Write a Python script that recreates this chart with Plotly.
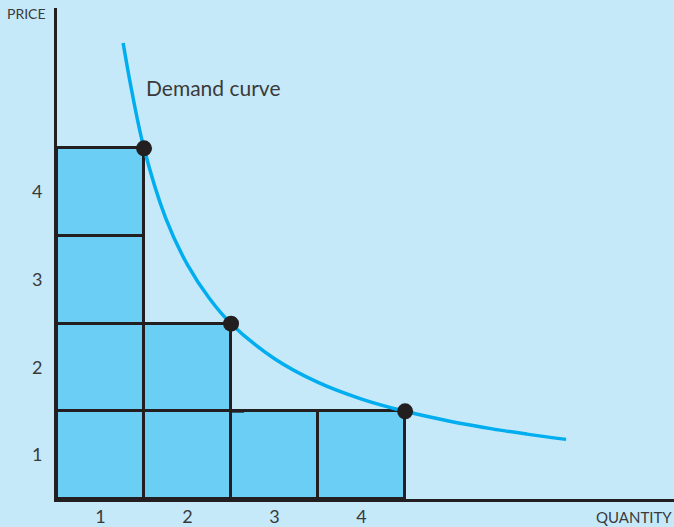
import plotly.graph_objects as go

# Data
quantities = [1, 2, 3, 4]           # column index (unit step)
column_heights = [4, 2, 1, 1]       # number of stacked unit boxes per column
points_q = [1, 2, 4]
points_p = [4, 2, 1]
curve_q = [0.76, 0.85, 1.0, 1.25, 1.5, 1.75, 2.0, 2.5, 3.0, 3.5, 4.0, 4.5, 5.0, 5.4, 5.85]
curve_p = [5.2, 4.7, 4.0, 3.2, 2.67, 2.29, 2.0, 1.6, 1.33, 1.14, 1.0, 0.89, 0.8, 0.74, 0.68]
tick_pos = [0.5, 1.5, 2.5, 3.5]
tick_text = ["1", "2", "3", "4"]
overhang_y = [2, 1]
overhang_x0 = [1.0, 2.0]
overhang_x1 = [1.17, 2.15]

BG = "#c6e9f9"
BAR = "#6acef5"
INK = "#231f20"
CURVE = "#00aeef"
FONT = "Lato"
TXT = "#3a3a3a"

fig = go.Figure()

centers = [q - 0.5 for q in quantities]
for level in range(1, max(column_heights) + 1):
    fig.add_trace(go.Bar(
        x=centers,
        y=[1 if h >= level else 0 for h in column_heights],
        width=1.0,
        marker=dict(color=BAR, line=dict(color=INK, width=2.7)),
        hoverinfo="skip",
        showlegend=False,
    ))

for y, x0, x1 in zip(overhang_y, overhang_x0, overhang_x1):
    fig.add_trace(go.Scatter(x=[x0, x1], y=[y, y], mode="lines",
                             line=dict(color=INK, width=2.7), showlegend=False,
                             hoverinfo="skip"))

fig.add_trace(go.Scatter(x=curve_q, y=curve_p, mode="lines",
                         line=dict(color=CURVE, width=3.5, shape="spline"),
                         showlegend=False, hoverinfo="skip"))

fig.add_trace(go.Scatter(x=points_q, y=points_p, mode="markers",
                         marker=dict(color=INK, size=16),
                         showlegend=False, hoverinfo="skip", cliponaxis=False))

fig.update_layout(
    width=674, height=527,
    margin=dict(l=57, r=0, t=8, b=26),
    paper_bgcolor=BG, plot_bgcolor=BG,
    barmode="stack", bargap=0,
    font=dict(family=FONT, color=TXT, size=17),
    showlegend=False,
    xaxis=dict(range=[0, 7.09], showgrid=False, zeroline=False,
               showline=True, linecolor=INK, linewidth=2.7,
               tickvals=tick_pos, ticktext=tick_text, ticks="",
               tickfont=dict(size=18, family=FONT, color=TXT), ticklabelstandoff=0),
    yaxis=dict(range=[0, 5.6], showgrid=False, zeroline=False,
               showline=True, linecolor=INK, linewidth=2.7,
               tickvals=tick_pos, ticktext=tick_text, ticks="",
               tickfont=dict(size=18, family=FONT, color=TXT), ticklabelstandoff=8),
    annotations=[
        dict(text="PRICE", x=-0.049, y=0.988, xref="paper", yref="paper", showarrow=False,
             xanchor="center", yanchor="middle",
             font=dict(size=14, family=FONT, color=TXT)),
        dict(text="QUANTITY", x=0.935, y=-0.037, xref="paper", yref="paper", showarrow=False,
             xanchor="center", yanchor="middle",
             font=dict(size=15, family=FONT, color=TXT)),
        dict(text="Demand curve", x=1.0, y=4.69, xref="x", yref="y", showarrow=False,
             xanchor="left", yanchor="middle",
             font=dict(size=21, family=FONT, color=TXT)),
    ],
)

fig.write_html("out.html", config={"displayModeBar": False},
               post_script="document.body.style.margin='0';document.body.style.overflow='hidden';")
